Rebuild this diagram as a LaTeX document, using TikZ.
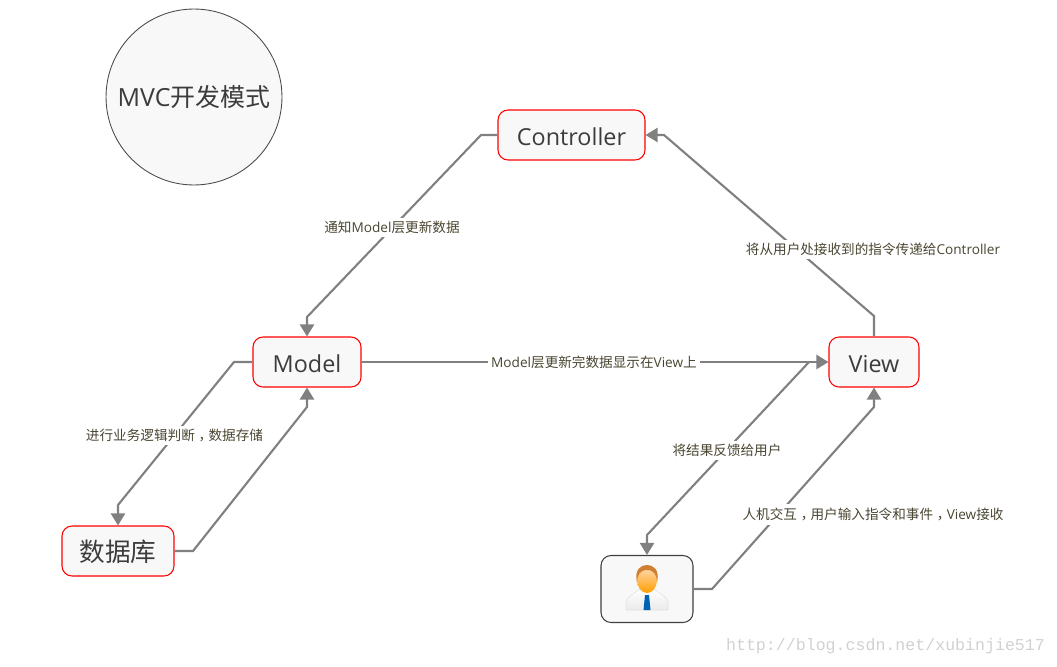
\documentclass[tikz,border=0pt]{standalone}
\usepackage{fontspec}
\setmainfont{Open Sans}
\newfontfamily\cjk{Noto Sans CJK SC}
\newfontfamily\markfont{Liberation Mono}
\newcommand{\zhcomma}{\kern.28em ，\kern-.28em\relax}
\usetikzlibrary{arrows.meta}
\definecolor{boxfill}{HTML}{F8F8F8}
\definecolor{linegray}{HTML}{808080}
\definecolor{labeltext}{HTML}{4A4632}
\definecolor{nodetext}{HTML}{3C3C3C}
\tikzset{
    x=0.02cm, y=-0.02cm,
    mvcbox/.style={draw=red, fill=boxfill, rounded corners=2mm, line width=0.6pt, inner sep=0pt, text=nodetext, text height=12.2pt, text depth=0pt, font=\fontsize{13.3}{16}\selectfont},
    link/.style={draw=linegray, line width=1.2pt, -{Triangle[length=2.4mm,width=2.8mm]}},
    linklabel/.style={fill=white, text=labeltext, inner sep=2pt, font=\fontsize{7.75}{9}\selectfont},
}
\begin{document}
\begin{tikzpicture}
    \useasboundingbox (0,0) rectangle (1057,666);

    % Title circle
    \node[circle, draw=black!70, fill=boxfill, line width=0.5pt, minimum size=3.52cm, inner sep=0pt, text=nodetext, text height=11.2pt, text depth=0pt, font=\fontsize{14.2}{16}\selectfont] (title) at (194,97) {MVC{\cjk 开发模式}};

    % Boxes
    \node[mvcbox, minimum width=2.94cm, minimum height=1cm] (controller) at (571.5,135) {Controller};
    \node[mvcbox, minimum width=2.16cm, minimum height=1cm] (model) at (307,362) {Model};
    \node[mvcbox, minimum width=1.8cm, minimum height=1cm] (view) at (874,362) {View};
    \node[mvcbox, minimum width=2.24cm, minimum height=1cm, font=\cjk\fontsize{14.6}{16}\selectfont] (database) at (118,551) {数据库};
    \node[mvcbox, draw=black!75, minimum width=1.84cm, minimum height=1.34cm] (user) at (647,589) {};

    % User figure
    \shade[top color=white, bottom color=black!8, draw=black!12, line width=0.3pt] (626,610) -- (626,602) .. controls (627,596) and (634,594) .. (640,589) -- (654,589) .. controls (660,594) and (667,596) .. (668,602) -- (668,610) -- cycle;
    \fill[blue!45!cyan!70!black] (645,595) -- (649,595) -- (650.5,610) -- (643.5,610) -- cycle;
    \shade[top color=orange!30, bottom color=orange!75!yellow] (647,580) ellipse (10 and 13);
    \fill[brown!75!orange] (637,583) .. controls (634,569) and (641,565) .. (647,565) .. controls (653,565) and (660,569) .. (657,583) .. controls (657,575) and (654,570) .. (647,570) .. controls (640,570) and (637,575) .. (637,583) -- cycle;

    % Turning points
    \coordinate (c1) at (481,135);
    \coordinate (c2) at (307,317);
    \coordinate (v1) at (874,316);
    \coordinate (v2) at (664,135);
    \coordinate (m1) at (234,362);
    \coordinate (m2) at (118,505);
    \coordinate (d1) at (193,551);
    \coordinate (d2) at (307,407);
    \coordinate (f0) at (809,362);
    \coordinate (f1) at (647,535);
    \coordinate (u1) at (712,589);
    \coordinate (u2) at (874,407);

    % Connectors
    \draw[link] (controller.west) -- (c1) -- (c2) -- (model.north);
    \draw[link] (view.north) -- (v1) -- (v2) -- (controller.east);
    \draw[link] (model.east) -- (view.west);
    \draw[link] (model.west) -- (m1) -- (m2) -- (database.north);
    \draw[link] (database.east) -- (d1) -- (d2) -- (model.south);
    \draw[link] (f0) -- (f1) -- (user.north);
    \draw[link] (user.east) -- (u1) -- (u2) -- (view.south);

    % Labels
    \node[linklabel] (lab1) at (392,227.5) {{\cjk 通知}Model{\cjk 层更新数据}};
    \node[linklabel] (lab2) at (873,249.5) {{\cjk 将从用户处接收到的指令传递给}Controller};
    \node[linklabel] (lab3) at (594,362.5) {Model{\cjk 层更新完数据显示在}View{\cjk 上}};
    \node[linklabel] (lab4) at (174.5,435.5) {\cjk 进行业务逻辑判断\zhcomma 数据存储};
    \node[linklabel] (lab5) at (727,450.5) {\cjk 将结果反馈给用户};
    \node[linklabel] (lab6) at (873,514.5) {{\cjk 人机交互\zhcomma 用户输入指令和事件\zhcomma }View{\cjk 接收}};

    % Watermark
    \node[text=black!18, inner sep=0pt, font=\markfont\fontsize{9.45}{11}\selectfont] (mark) at (885.5,646) {http://blog.csdn.net/xubinjie517};
\end{tikzpicture}
\end{document}
